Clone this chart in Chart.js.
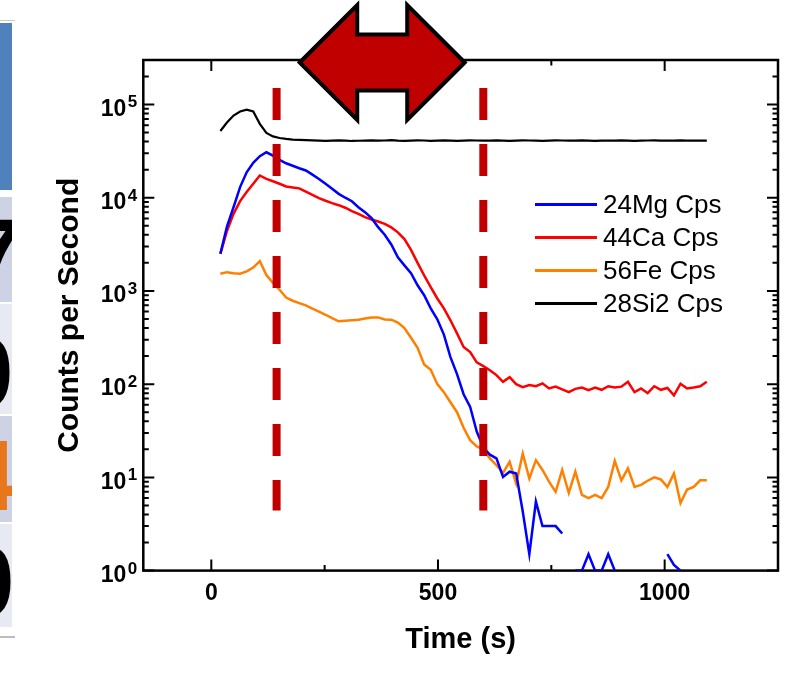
<!DOCTYPE html>
<html>
<head>
<meta charset="utf-8">
<script src="https://cdn.jsdelivr.net/npm/chart.js@4.4.1/dist/chart.umd.min.js"></script>
<style>
body { margin: 0; background: #fff; }
#wrap { position: relative; width: 793px; height: 694px; overflow: hidden; font-family: "Liberation Sans", Arial, sans-serif; }
#c { position: absolute; left: 0; top: 0; }
.bar { position: absolute; left: 0; }
.cell { position: absolute; left: 0; width: 12px; overflow: hidden; }
.cell span { position: absolute; font: bold 100px/1 "Liberation Sans", Arial, sans-serif; }
#legend { position: absolute; left: 535px; top: 188px; }
.row { display: flex; align-items: center; height: 33px; }
.row i { display: block; width: 62px; height: 2.5px; margin-right: 6px; }
.row b { font-weight: normal; font-size: 26px; color: #000; white-space: nowrap; }
</style>
</head>
<body>
<div id="wrap">
  <!-- cropped table strip on the left -->
  <div class="bar" style="top:20px;width:15px;height:1px;background:#c9c9c9"></div>
  <div class="bar" style="top:23px;width:12px;height:167px;background:#4f81bd"></div>
  <div class="cell" style="top:197px;height:105px;background:#cdd3e5"><span style="left:-33px;top:7px;color:#000">7</span></div>
  <div class="cell" style="top:304px;height:110px;background:#e7eaf3"><span style="left:-42px;top:18px;color:#000">0</span></div>
  <div class="cell" style="top:416px;height:106px;background:#cdd3e5"><span style="left:-39px;top:9px;color:#e8761a">4</span></div>
  <div class="cell" style="top:524px;height:103px;background:#e7eaf3"><span style="left:-41px;top:7px;color:#000">0</span></div>
  <div class="bar" style="top:636px;width:15px;height:2px;background:#bdbdbd"></div>

  <canvas id="c" width="793" height="694"></canvas>
  <div id="legend"></div>
</div>
<script>
// sample times (s)
const times = [20.0, 34.5, 49.0, 63.5, 78.0, 92.5, 107.0, 121.5, 136.0, 150.5,
  165.0, 179.5, 194.0, 208.5, 223.0, 237.5, 252.0, 266.5, 281.0, 295.5,
  310.0, 324.5, 339.0, 353.5, 368.0, 382.5, 397.0, 411.5, 426.0, 440.5,
  455.0, 469.5, 484.0, 498.5, 513.0, 527.5, 542.0, 556.5, 571.0, 585.5,
  600.0, 614.5, 629.0, 643.5, 658.0, 672.5, 687.0, 701.5, 716.0, 730.5,
  745.0, 759.5, 774.0, 788.5, 803.0, 817.5, 832.0, 846.5, 861.0, 875.5,
  890.0, 904.5, 919.0, 933.5, 948.0, 962.5, 977.0, 991.5, 1006.0, 1020.5,
  1035.0, 1049.5, 1064.0, 1078.5, 1093.0];

// counts per second (null = zero count, not shown on log axis)
const mg = [2500, 4900, 7900, 13000, 18700, 23700, 27900, 30700, 28300, 25500,
  23400, 22000, 20700, 19600, 17700, 15900, 14100, 12500, 11000, 10000,
  9170, 7900, 7000, 6030, 4830, 4000, 3150, 2300, 1880, 1550,
  1150, 900, 650, 496, 340, 195, 128, 78, 57, 31,
  21, 17.5, 16, 10.1, 11.5, 11, 4.3, 1.5, 5.5, 3,
  3, 3, 2.5, null, 1, 1, 1.5, 1, 1, 1.5,
  1, null, null, null, null, null, null, null, 1.5, 1.15,
  1, null, null, null, null];

const ca = [2500, 4400, 6700, 9200, 11500, 14100, 17300, 15900, 15000, 14100,
  13200, 12900, 12600, 11600, 10700, 9900, 9270, 8740, 8310, 7800,
  7170, 6720, 6180, 5840, 5560, 5250, 4800, 4250, 3600, 2750,
  2000, 1470, 1100, 830, 650, 484, 351, 250, 221, 171,
  156, 141, 125, 106, 119, 100, 93, 98, 95, 102,
  90, 94, 88, 82, 89, 92, 86, 92, 87, 95,
  92, 94, 106, 82, 90, 80, 95, 87, 91, 76,
  101, 90, 92, 95, 106];

const fe = [1530, 1590, 1550, 1530, 1620, 1780, 2090, 1480, 1220, 1030,
  850, 785, 740, 700, 645, 600, 555, 510, 472, 480,
  486, 490, 505, 520, 520, 495, 492, 458, 400, 315,
  245, 163, 143, 100, 82, 64, 50, 34, 25, 21.5,
  20, 16, 13.5, 11.2, 14.7, 8.6, 18, 9.7, 15.3, 12,
  9, 7, 12, 6.8, 11.5, 6.5, 6, 6.5, 6, 7.9,
  15, 9.3, 12.5, 7.9, 8.3, 9.2, 10, 9.5, 7.9, 11,
  5.3, 7.4, 7.9, 9.3, 9.3];

const si = [52000, 64000, 76000, 84000, 88000, 84000, 62000, 49500, 45500, 43700,
  42700, 42000, 41700, 41500, 41200, 41000, 40700, 41000, 41300, 41000,
  40600, 40800, 41000, 41200, 40900, 41100, 41400, 41000, 40800, 41000,
  41300, 41100, 40700, 40900, 41200, 41000, 40800, 41000, 41300, 41100,
  40900, 41000, 41200, 41000, 40700, 41000, 41300, 41100, 40900, 40800,
  41000, 41200, 41100, 40900, 41000, 41300, 41000, 40800, 41000, 41100,
  40900, 41200, 41000, 40800, 41000, 41100, 41300, 41000, 40900, 41000,
  41200, 41000, 40900, 41100, 41000];

const seriesNames = ["24Mg Cps", "44Ca Cps", "56Fe Cps", "28Si2 Cps"];
const seriesColors = ["#0000ff", "#ff0000", "#ff8000", "#000000"];
const seriesValues = [mg, ca, fe, si];

const xTicks = [0, 250, 500, 750, 1000];   // tick marks
const xLabels = [0, 500, 1000];            // labelled ticks
const yTicks = [1, 10, 100, 1000, 10000, 100000];

const dashTimes = [144, 600];  // red dashed markers (s)
const dashTop = 150000, dashBottom = 4.4;
const arrowCenter = 377;       // centre of the double arrow (s)

const font = '"Liberation Sans", Arial, sans-serif';
Chart.defaults.font.family = font;
Chart.defaults.color = "#000";

const marks = {
  id: "marks",
  beforeDatasetsDraw(chart) {
    const {ctx, chartArea: a, scales: {x, y}} = chart;
    ctx.save();
    ctx.strokeStyle = "#000";
    ctx.lineWidth = 2;
    ctx.beginPath();
    // inward ticks, log minor ticks 2..9 in each decade
    for (let e = 0; e <= 5; e++) {
      for (let m = 1; m <= 9; m++) {
        const v = m * Math.pow(10, e);
        if (v > y.max) break;
        const py = y.getPixelForValue(v);
        const len = m === 1 ? 11 : 5.5;
        ctx.moveTo(a.left, py); ctx.lineTo(a.left + len, py);
        ctx.moveTo(a.right, py); ctx.lineTo(a.right - len, py);
      }
    }
    xTicks.forEach(v => {
      const px = x.getPixelForValue(v);
      const len = xLabels.includes(v) ? 11 : 5.5;
      ctx.moveTo(px, a.bottom); ctx.lineTo(px, a.bottom - len);
      ctx.moveTo(px, a.top); ctx.lineTo(px, a.top + len);
    });
    ctx.stroke();
    ctx.lineWidth = 2.5;
    ctx.strokeRect(a.left, a.top, a.right - a.left, a.bottom - a.top);
    ctx.restore();
  },
  afterDatasetsDraw(chart) {
    const {ctx, chartArea: a, scales: {x, y}} = chart;
    ctx.save();
    // exponents of the 10^n labels
    ctx.font = "bold 17px " + font;
    ctx.fillStyle = "#000";
    ctx.textAlign = "left";
    ctx.textBaseline = "alphabetic";
    yTicks.forEach(v => {
      ctx.fillText(String(Math.round(Math.log10(v))), a.left - 15.5, y.getPixelForValue(v) + 3);
    });
    // dashed markers
    ctx.strokeStyle = "#c00000";
    ctx.lineWidth = 8;
    ctx.setLineDash([32, 24]);
    dashTimes.forEach(t => {
      const px = x.getPixelForValue(t);
      ctx.beginPath();
      ctx.moveTo(px, y.getPixelForValue(dashTop));
      ctx.lineTo(px, y.getPixelForValue(dashBottom));
      ctx.stroke();
    });
    ctx.setLineDash([]);
    // double arrow above the plot
    const cx = x.getPixelForValue(arrowCenter), cy = a.top + 2.5;
    const pts = [[-82.5, 0], [-25, -57.5], [-25, -28], [25, -28], [25, -57.5],
                 [82.5, 0], [25, 57.5], [25, 28], [-25, 28], [-25, 57.5]];
    ctx.beginPath();
    pts.forEach((p, i) => i ? ctx.lineTo(cx + p[0], cy + p[1]) : ctx.moveTo(cx + p[0], cy + p[1]));
    ctx.closePath();
    ctx.fillStyle = "#c00000";
    ctx.fill();
    ctx.lineWidth = 4;
    ctx.lineJoin = "miter";
    ctx.strokeStyle = "#000";
    ctx.stroke();
    ctx.restore();
  }
};

const chart = new Chart(document.getElementById("c"), {
  type: "line",
  data: {
    datasets: seriesValues.map((vals, i) => ({
      label: seriesNames[i],
      data: times.map((t, j) => ({x: t, y: vals[j]})),
      borderColor: seriesColors[i],
      backgroundColor: seriesColors[i],
      borderWidth: i === 3 ? 2.2 : 2.5,
      pointRadius: 0,
      tension: 0,
      spanGaps: false,
      fill: false
    }))
  },
  options: {
    responsive: false,
    animation: false,
    devicePixelRatio: 1,
    layout: { padding: { left: 0, top: 60, right: 15, bottom: 0 } },
    plugins: { legend: { display: false }, tooltip: { enabled: false } },
    scales: {
      x: {
        type: "linear",
        min: -150,
        max: 1250,
        afterBuildTicks: s => { s.ticks = xLabels.map(v => ({value: v})); },
        afterFit: s => { s.height = 694 - 570.6; },
        grid: { display: false, drawTicks: false },
        border: { display: false },
        ticks: { autoSkip: false, maxRotation: 0, padding: 9, color: "#000",
                 font: { size: 23, weight: "bold" },
                 callback: v => String(v) },
        title: { display: true, text: "Time (s)", color: "#000",
                 font: { size: 29, weight: "bold" }, padding: { top: 0, bottom: 37 } }
      },
      y: {
        type: "logarithmic",
        min: 1,
        max: 300000,
        afterBuildTicks: s => { s.ticks = yTicks.map(v => ({value: v})); },
        afterFit: s => { s.width = 143.3; },
        grid: { display: false, drawTicks: false },
        border: { display: false },
        ticks: { autoSkip: false, padding: 17, labelOffset: 5, color: "#000",
                 font: { size: 23, weight: "bold" },
                 callback: () => "10" },
        title: { display: true, text: "Counts per Second", color: "#000",
                 font: { size: 30, weight: "bold" }, padding: { top: 52, bottom: 0 } }
      }
    }
  },
  plugins: [marks]
});

// legend inside the plot
const legend = document.getElementById("legend");
chart.data.datasets.forEach(ds => {
  const row = document.createElement("div");
  row.className = "row";
  row.innerHTML = `<i style="background:${ds.borderColor}"></i><b>${ds.label}</b>`;
  legend.appendChild(row);
});
</script>
</body>
</html>
